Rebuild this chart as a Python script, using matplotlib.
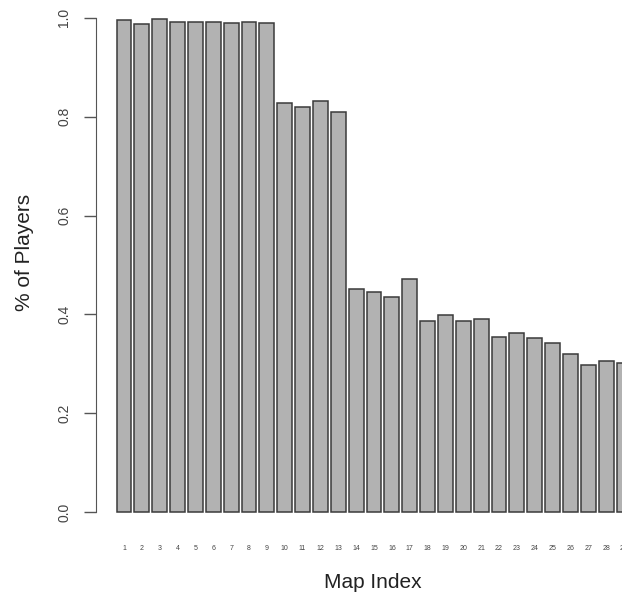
import matplotlib.pyplot as plt
import numpy as np

plt.rcParams['font.family'] = ['Liberation Sans', 'DejaVu Sans']

# share of players per map, maps 1..29
map_index = [str(i) for i in range(1, 30)]
pct_players = [0.996, 0.987, 0.998, 0.992, 0.992, 0.992, 0.989, 0.992, 0.990,
               0.827, 0.819, 0.832, 0.809,
               0.451, 0.446, 0.435, 0.472, 0.387, 0.399, 0.387, 0.391,
               0.354, 0.363, 0.352, 0.343, 0.320, 0.298, 0.306, 0.302]
y_ticks = [0.0, 0.2, 0.4, 0.6, 0.8, 1.0]

W, H = 622, 597
fig = plt.figure(figsize=(W / 100, H / 100), dpi=100)

# barplot-style layout: width 1, space 0.2, 4% padding on both axes
n = len(pct_players)
centers = 0.7 + 1.2 * np.arange(n)
x0, x1 = 0.2, 1.2 * n
pad = 0.04 * (x1 - x0)
xlim = (x0 - pad, x1 + pad)
ylim = (-0.04, 1.04)

left_px, right_px = 96, 652
top_px, bottom_px = -2, 532
ax = fig.add_axes([left_px / W, 1 - bottom_px / H,
                   (right_px - left_px) / W, (bottom_px - top_px) / H])

ax.bar(centers, pct_players, width=1.0, color='#b2b2b2',
       edgecolor='#3a3a3a', linewidth=1.1)

ax.set_xlim(*xlim)
ax.set_ylim(*ylim)

for side in ['top', 'right', 'bottom']:
    ax.spines[side].set_visible(False)
ax.spines['left'].set_bounds(0, 1)
ax.spines['left'].set_color('#555555')

ax.set_yticks(y_ticks)
ax.set_yticklabels([f'{v:.1f}' for v in y_ticks], rotation=90, va='center',
                   fontsize=10, color='#444444')
ax.tick_params(axis='y', length=9, width=1, color='#555555', pad=9)

ax.set_xticks(centers)
ax.set_xticklabels(map_index, fontsize=5, color='#444444')
ax.tick_params(axis='x', length=0, pad=9)

fig.text(373 / W, 1 - 582 / H, 'Map Index', ha='center', va='center',
         fontsize=15, color='#222222')
fig.text(24 / W, 1 - 252 / H, '% of Players', ha='center', va='center',
         rotation=90, fontsize=15, color='#222222')

fig.savefig('out.png', dpi=100, facecolor='white')
